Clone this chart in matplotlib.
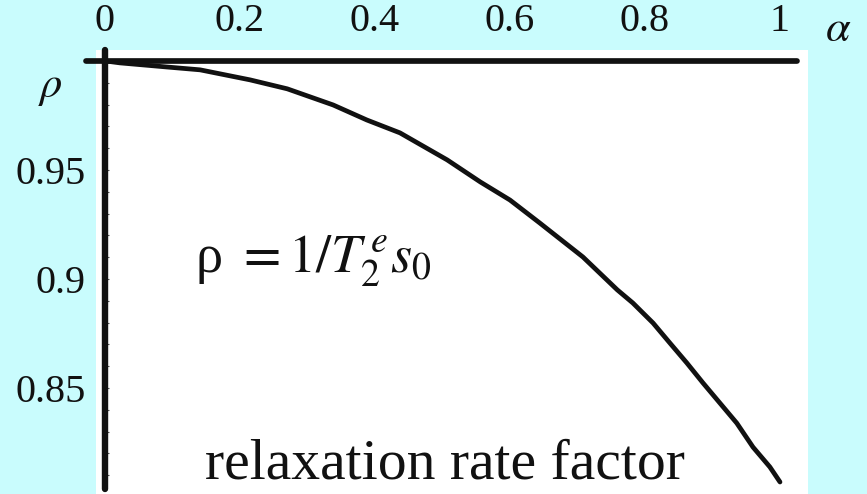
import matplotlib
matplotlib.use("Agg")
import matplotlib.pyplot as plt
from matplotlib.ticker import MultipleLocator

plt.rcParams["font.family"] = "serif"
plt.rcParams["font.serif"] = ["Liberation Serif", "DejaVu Serif"]
plt.rcParams["mathtext.fontset"] = "stix"

# relaxation rate factor rho vs alpha
alpha = [0.0, 0.022, 0.092, 0.141, 0.215, 0.270, 0.338, 0.388, 0.437, 0.507,
         0.556, 0.600, 0.644, 0.708, 0.759, 0.782, 0.812, 0.837, 0.862, 0.886,
         0.911, 0.936, 0.960, 0.985, 1.0]
rho = [1.0, 0.9991, 0.9972, 0.9959, 0.9913, 0.9872, 0.9798, 0.9729, 0.9670, 0.9546,
       0.9445, 0.9362, 0.9257, 0.9101, 0.8950, 0.8890, 0.8798, 0.8706, 0.8615, 0.8523,
       0.8431, 0.8339, 0.8229, 0.8138, 0.8069]

xticks = [0, 0.2, 0.4, 0.6, 0.8, 1]
xticklabels = ["0", "0.2", "0.4", "0.6", "0.8", "1"]
yticks = [0.85, 0.9, 0.95]
yticklabels = ["0.85", "0.9", "0.95"]

W, H = 867, 494
fig = plt.figure(figsize=(W / 100, H / 100), dpi=100)
fig.patch.set_facecolor("#C9FCFD")

ax = fig.add_axes([96 / W, 0, 712 / W, 444 / H])
ax.set_facecolor("white")
ax.set_xlim(-0.0133, 1.0415)
ax.set_ylim(0.8014, 1.0050)

for s in ax.spines.values():
    s.set_visible(False)
ax.spines["left"].set_position(("data", 0))
ax.spines["top"].set_position(("data", 1.0))

# axis lines
ax.plot([-0.028, 1.025], [1.0, 1.0], color="#111111", lw=4.1,
        solid_capstyle="round", clip_on=False, zorder=3)
ax.plot([0, 0], [1.005, 0.8035], color="#111111", lw=4.6,
        solid_capstyle="round", clip_on=False, zorder=3)

ax.plot(alpha, rho, color="#111111", lw=3.4, solid_capstyle="round",
        solid_joinstyle="round", zorder=4)

ax.xaxis.set_ticks_position("top")
ax.set_xticks(xticks)
ax.set_xticklabels(xticklabels)
ax.tick_params(axis="x", length=0, pad=15, labelsize=29, labelcolor="#111111")

ax.set_yticks(yticks)
ax.set_yticklabels(yticklabels)
ax.yaxis.set_minor_locator(MultipleLocator(0.01))
ax.tick_params(axis="y", which="both", direction="in", length=3, width=0.8,
               color="#555555", pad=14, labelsize=29, labelcolor="#111111")

ax.text(0.133, 0.9027, "ρ $= 1/T_2^{\\,e}s_0$", fontsize=39, va="baseline",
        ha="left", color="#111111")
ax.text(0.148, 0.8087, "relaxation rate factor", fontsize=41.5, va="baseline",
        ha="left", color="#111111")

fig.text(838 / W, 1 - 30 / H, r"$\alpha$", fontsize=32, ha="center", va="center",
         color="#111111")
fig.text(50 / W, 1 - 88 / H, r"$\rho$", fontsize=32, ha="center", va="center",
         color="#111111")

fig.savefig("out.png", dpi=100, facecolor=fig.get_facecolor())
